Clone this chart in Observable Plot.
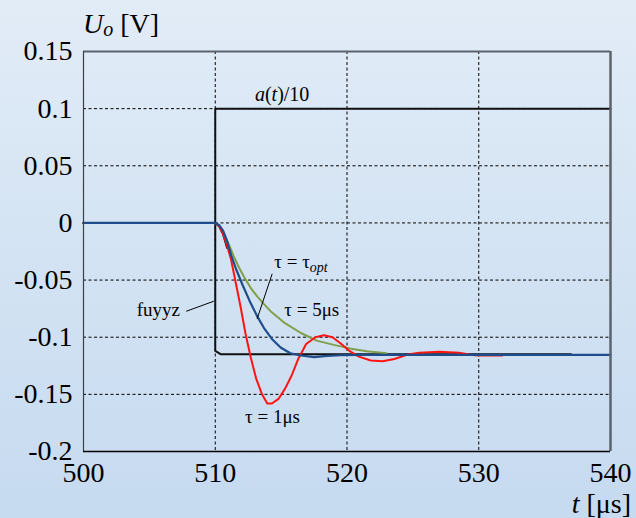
<!DOCTYPE html>
<html>
<head>
<meta charset="utf-8">
<script src="https://cdn.jsdelivr.net/npm/d3@7"></script>
<script src="https://cdn.jsdelivr.net/npm/@observablehq/plot@0.6"></script>
<style>
  html, body { margin: 0; padding: 0; }
  body {
    width: 636px; height: 518px; overflow: hidden;
    background: linear-gradient(to bottom, #e2ecf7 0%, #d3e3f3 50%, #c6daf0 100%);
  }
  svg { display: block; overflow: visible; }
</style>
</head>
<body>
<div id="chart"></div>
<script>
// ---- axis ticks ----
const xTicks = [500, 510, 520, 530, 540];
const xTickLabels = ["500", "510", "520", "530", "540"];
const yTicks = [0.15, 0.1, 0.05, 0, -0.05, -0.1, -0.15, -0.2];
const yTickLabels = ["0.15", "0.1", "0.05", "0", "-0.05", "-0.1", "-0.15", "-0.2"];
const xGrid = [510, 520, 530];
const yGrid = [0.1, 0.05, 0, -0.05, -0.1, -0.15];

// ---- series: a(t)/10 (step) ----
const stepT = [500, 510, 510, 540];
const stepU = [0, 0, 0.1, 0.1];

// ---- series: fuyyz ----
const fuyyzT = [500, 510, 510, 510.4, 537];
const fuyyzU = [0, 0, -0.112, -0.1148, -0.1148];

// ---- series: short dark trace under the curves at the start ----
const darkT = [510, 510.3, 510.6, 510.9];
const darkU = [0, -0.003, -0.010, -0.022];

// ---- series: tau = 5 us (green) ----
const tau5T = [500, 510, 510.3, 510.6, 511.0, 511.4, 511.8, 512.2, 512.7, 513.2, 513.7, 514.2, 515.2, 516.5, 517.7, 519.0, 520.3, 521.5, 523.0];
const tau5U = [0, 0, -0.002, -0.008, -0.018, -0.029, -0.039, -0.0475, -0.057, -0.0645, -0.071, -0.0772, -0.087, -0.0963, -0.103, -0.1067, -0.110, -0.1123, -0.114];

// ---- series: tau = 1 us (red) ----
const tau1T = [500, 510, 510.3, 510.6, 510.9, 511.2, 511.5, 511.9, 512.3, 512.7, 513.1, 513.55, 513.95, 514.3, 514.8, 515.3, 515.8, 516.3, 516.9, 517.6, 518.25, 518.9, 519.5, 520.15, 520.9, 521.8, 522.7, 523.6, 524.6, 525.5, 527.0, 528.5, 529.5, 530.0, 531.8];
const tau1U = [0, 0, -0.003, -0.01, -0.02, -0.032, -0.049, -0.072, -0.097, -0.118, -0.136, -0.150, -0.158, -0.158, -0.154, -0.145, -0.1335, -0.119, -0.106, -0.100, -0.0983, -0.100, -0.1053, -0.1117, -0.117, -0.1204, -0.121, -0.119, -0.1152, -0.1135, -0.1128, -0.1135, -0.1155, -0.116, -0.116];

// ---- series: tau = tau_opt (blue) ----
const tauOptT = [500, 510, 510.3, 510.6, 510.9, 511.2, 511.6, 512.1, 512.6, 513.2, 513.7, 514.3, 514.96, 515.7, 516.5, 517.5, 518.5, 519.5, 521.0, 540];
const tauOptU = [0, 0, -0.002, -0.007, -0.016, -0.028, -0.041, -0.055, -0.068, -0.082, -0.092, -0.1015, -0.109, -0.114, -0.116, -0.1175, -0.1163, -0.1158, -0.1155, -0.1155];

const zip = (T, U) => T.map((t, i) => ({t, U: U[i]}));
const SERIF = "Liberation Serif";

const chart = Plot.plot({
  width: 636,
  height: 518,
  marginLeft: 83,
  marginRight: 26,
  marginTop: 51,
  marginBottom: 67,
  style: "background: transparent; font-size: 28px; color: #000; overflow: visible;",
  x: {domain: [500, 540], ticks: xTicks, tickSize: 0, tickPadding: 11, label: null,
      tickFormat: d => xTickLabels[xTicks.indexOf(d)]},
  y: {domain: [-0.2, 0.15], ticks: yTicks, tickSize: 0, tickPadding: 11, label: null,
      tickFormat: d => yTickLabels[yTicks.findIndex(v => Math.abs(v - d) < 1e-9)]},
  marks: [
    Plot.gridX(xGrid, {stroke: "#000", strokeOpacity: 1, strokeWidth: 1, strokeDasharray: "3,2.5"}),
    Plot.gridY(yGrid, {stroke: "#000", strokeOpacity: 1, strokeWidth: 1, strokeDasharray: "3,2.5"}),
    Plot.line(zip(stepT, stepU), {x: "t", y: "U", stroke: "#111", strokeWidth: 2}),
    Plot.line(zip(fuyyzT, fuyyzU), {x: "t", y: "U", stroke: "#111", strokeWidth: 2}),
    Plot.line(zip(darkT, darkU), {x: "t", y: "U", stroke: "#111", strokeWidth: 2}),
    Plot.line(zip(tau5T, tau5U), {x: "t", y: "U", stroke: "#809f48", strokeWidth: 2}),
    Plot.line(zip(tau1T, tau1U), {x: "t", y: "U", stroke: "#ff1414", strokeWidth: 2}),
    Plot.line(zip(tauOptT, tauOptU), {x: "t", y: "U", stroke: "#1f4d8c", strokeWidth: 2.2}),
    // leader lines
    Plot.link([{x1: 507.8, y1: -0.0773, x2: 509.89, y2: -0.0685}], {x1: "x1", y1: "y1", x2: "x2", y2: "y2", stroke: "#000", strokeWidth: 1}),
    Plot.link([{x1: 514.32, y1: -0.0445, x2: 513.18, y2: -0.0839}], {x1: "x1", y1: "y1", x2: "x2", y2: "y2", stroke: "#000", strokeWidth: 1}),
    // plot border: thin dark left, black bottom, grey top and right
    Plot.ruleY([0.15], {stroke: "#5c636c", strokeWidth: 2}),
    Plot.ruleX([540], {stroke: "#5c636c", strokeWidth: 2.5}),
    Plot.ruleX([500], {stroke: "#3c4046", strokeWidth: 1.2}),
    Plot.ruleY([-0.2], {stroke: "#000", strokeWidth: 1.5})
  ]
});

document.getElementById("chart").appendChild(chart);

// ---- annotations (real text, positioned through the chart's scales) ----
const sx = chart.scale("x"), sy = chart.scale("y");
const svg = d3.select(chart);
svg.attr("font-family", SERIF);
const g = svg.append("g").attr("fill", "#000").attr("font-family", SERIF);

function addText(xv, yv, size, parts, anchor) {
  const t = g.append("text")
    .attr("x", sx.apply(xv)).attr("y", sy.apply(yv))
    .attr("font-size", size)
    .attr("text-anchor", anchor || "start");
  parts.forEach(p => {
    const s = t.append("tspan").text(p.text);
    if (p.italic) s.attr("font-style", "italic");
    if (p.size) s.attr("font-size", p.size);
    if (p.dy) s.attr("dy", p.dy);
  });
  return t;
}

addText(513.05, 0.1062, 20, [{text: "a", italic: true}, {text: "("}, {text: "t", italic: true}, {text: ")/10"}]);
addText(514.52, -0.0402, 19, [{text: "τ = τ"}, {text: "opt", italic: true, size: 14, dy: 4}]);
addText(515.28, -0.0816, 19, [{text: "τ = 5μs"}]);
addText(504.08, -0.0816, 19, [{text: "fuyyz"}]);
addText(512.3, -0.1753, 19, [{text: "τ = 1μs"}]);

// axis titles
addText(500, 0.1657, 28, [{text: "U", italic: true}, {text: "o", italic: true, size: 20, dy: 3}, {text: " [V]", dy: -3}]);
addText(541.6, -0.2543, 28, [{text: "t", italic: true}, {text: " [μs]"}], "end");

svg.selectAll("text, tspan").attr("font-family", SERIF);
</script>
</body>
</html>
